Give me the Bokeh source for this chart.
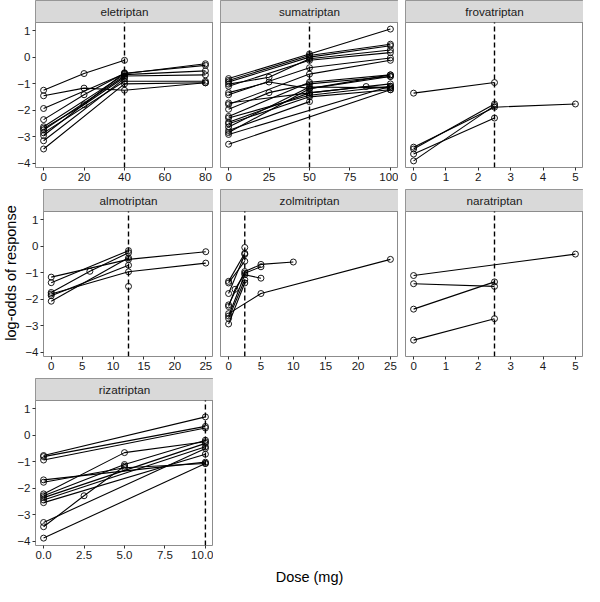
from bokeh.plotting import figure
from bokeh.models import Range1d, FixedTicker, NumeralTickFormatter, BasicTickFormatter
from bokeh.layouts import column, row
from bokeh.embed import file_html
from bokeh.resources import INLINE
from bokeh.core.properties import value

# ---------------- data ----------------
drugs = ["eletriptan", "sumatriptan", "frovatriptan",
         "almotriptan", "zolmitriptan", "naratriptan", "rizatriptan"]
ref_dose = [40, 50, 2.5, 12.5, 2.5, 2.5, 10]

ele_dose = [[0, 20, 40], [0, 20, 40, 80], [0, 40, 80], [0, 20, 40, 80], [0, 40, 80],
            [0, 20, 40], [0, 40, 80], [0, 40, 80], [0, 40], [0, 40], [0, 40, 80]]
ele_lo = [[-1.24, -0.61, -0.11], [-1.45, -1.16, -1.24, -0.96], [-1.93, -0.62, -0.24],
          [-2.35, -1.41, -0.60, -0.30], [-2.62, -0.65, -0.51], [-2.68, -1.79, -0.75],
          [-2.74, -0.70, -0.66], [-2.85, -0.90, -0.90], [-2.95, -0.58], [-3.15, -0.80],
          [-3.46, -1.00, -0.96]]

sum_dose = [[0, 50, 100], [0, 50, 100], [0, 50, 100], [0, 25, 50, 100], [0, 50, 100],
            [0, 25, 50, 100], [0, 50, 100], [0, 50, 85, 100], [0, 50, 100], [0, 25, 50, 100],
            [0, 50, 100], [0, 50, 100], [0, 50, 100], [0, 50, 100], [0, 50, 100],
            [0, 50], [0, 50, 100], [0, 100], [0, 100]]
sum_lo = [[-0.80, 0.13, 1.07], [-0.87, 0.07, 0.50], [-0.93, 0.01, 0.44],
          [-1.01, -0.75, -0.05, 0.28], [-1.09, -0.11, 0.18], [-1.33, -0.93, -1.18, -0.66],
          [-1.41, -0.39, -0.02], [-1.72, -1.34, -1.10, -1.15], [-1.78, -0.63, -0.11],
          [-1.96, -1.33, -1.00, -0.72], [-2.23, -0.94, -0.66], [-2.29, -1.43, -1.09],
          [-2.45, -1.34, -1.00], [-2.51, -1.49, -1.22], [-2.63, -1.12, -1.15],
          [-2.76, -1.67], [-2.84, -1.18, -0.72], [-2.91, -1.09], [-3.28, -1.22]]

fro_dose = [[0, 2.5], [0, 2.5, 5], [0, 2.5], [0, 2.5], [0, 2.5]]
fro_lo = [[-1.35, -0.95], [-3.39, -1.88, -1.76], [-3.46, -1.76], [-3.65, -2.29], [-3.91, -1.82]]

alm_dose = [[0, 12.5, 25], [0, 12.5], [0, 6.25, 12.5], [0, 12.5, 25], [0, 12.5], [0, 12.5], [12.5]]
alm_lo = [[-1.16, -0.49, -0.20], [-1.37, -0.16], [-1.74, -0.94, -0.24], [-1.80, -0.96, -0.63],
          [-1.86, -0.71], [-2.07, -0.43], [-1.51]]

zol_dose = [[0, 2.5], [0, 2.5], [0, 2.5], [0, 2.5, 5, 10], [0, 1, 2.5, 5], [0, 5, 25],
            [0, 2.5, 5], [0, 2.5], [0, 2.5], [2.5]]
zol_lo = [[-1.32, -0.26], [-1.38, -0.56], [-1.78, -0.30], [-2.21, -0.95, -0.68, -0.59],
          [-2.27, -1.62, -1.01, -0.77], [-2.54, -1.78, -0.49], [-2.63, -1.07, -1.20],
          [-2.72, -1.26], [-2.93, -1.38], [-0.04]]

nar_dose = [[0, 5], [0, 2.5], [0, 2.5], [0, 2.5]]
nar_lo = [[-1.10, -0.29], [-1.41, -1.51], [-2.37, -1.34], [-3.54, -2.73]]

riz_dose = [[0, 10], [0, 10], [0, 10], [0, 10], [0, 5, 10], [0, 5, 10], [0, 5, 10],
            [0, 10], [0, 10], [0, 10], [0, 10], [0, 2.5, 5], [0, 10]]
riz_lo = [[-0.76, 0.70], [-0.80, 0.34], [-0.93, 0.28], [-1.68, -1.01], [-1.77, -1.22, -1.06],
          [-2.21, -0.65, -0.24], [-2.28, -1.10, -0.18], [-2.35, -0.30], [-2.44, -0.43],
          [-2.54, -0.71], [-3.29, -0.49], [-3.45, -2.28, -1.16], [-3.88, -1.06]]

x_ticks = [[0, 20, 40, 60, 80], [0, 25, 50, 75, 100], [0, 1, 2, 3, 4, 5],
           [0, 5, 10, 15, 20, 25], [0, 5, 10, 15, 20, 25], [0, 1, 2, 3, 4, 5],
           [0, 2.5, 5, 7.5, 10]]
x_fmt = ["0", "0", "0", "0", "0", "0", "0.0"]
y_ticks = [-4, -3, -2, -1, 0, 1]

all_dose = [ele_dose, sum_dose, fro_dose, alm_dose, zol_dose, nar_dose, riz_dose]
all_lo = [ele_lo, sum_lo, fro_lo, alm_lo, zol_lo, nar_lo, riz_lo]

# ---------------- layout constants ----------------
FONT = "Liberation Sans"
PANEL_W = 178
PANEL_H = 145
STRIP_H = 22
LEFT_W = 35
GAP = 7
BOTTOM = 22
BORDER = "#8c8c8c"
STRIP_FILL = "#d9d9d9"
TOTAL_W = LEFT_W + 3 * PANEL_W + 2 * GAP

flat_y = [v for d in all_lo for s in d for v in s]
ymin, ymax = min(flat_y), max(flat_y)
ypad = 0.05 * (ymax - ymin)
Y0, Y1 = ymin - ypad, ymax + ypad


def panel(i, col, ylabel=None):
    doses, lo = all_dose[i], all_lo[i]
    xs_flat = [v for s in doses for v in s]
    ys_flat = [v for s in lo for v in s]
    xmin, xmax = min(xs_flat), max(xs_flat)
    xpad = 0.05 * (xmax - xmin)
    x0, x1 = xmin - xpad, xmax + xpad
    strip_units = (Y1 - Y0) * STRIP_H / PANEL_H
    ytop = Y1 + strip_units
    left = LEFT_W if col == 0 else GAP
    p = figure(width=left + PANEL_W, height=STRIP_H + PANEL_H + BOTTOM,
               x_range=Range1d(x0, x1), y_range=Range1d(Y0, ytop),
               toolbar_location=None, output_backend="svg",
               y_axis_location="left" if col == 0 else None,
               min_border_left=left, min_border_right=0,
               min_border_top=0, min_border_bottom=BOTTOM)
    p.xgrid.visible = False
    p.ygrid.visible = False
    p.outline_line_color = BORDER
    p.outline_line_width = 1
    p.background_fill_color = "white"
    p.border_fill_color = "white"

    axes = list(p.xaxis) + (list(p.yaxis) if col == 0 else [])
    for ax in axes:
        ax.axis_line_color = None
        ax.major_tick_line_color = "#333333"
        ax.major_tick_out = 3
        ax.major_tick_in = 0
        ax.minor_tick_out = 0
        ax.minor_tick_in = 0
        ax.major_label_standoff = 2
        ax.major_label_text_font = FONT
        ax.major_label_text_font_size = "11.5px"
        ax.major_label_text_color = "#1a1a1a"
    p.xaxis.ticker = FixedTicker(ticks=x_ticks[i])
    if x_fmt[i] == "0.0":
        p.xaxis.formatter = NumeralTickFormatter(format="0.0")
    if col == 0:
        p.yaxis.ticker = FixedTicker(ticks=y_ticks)
        if ylabel:
            p.yaxis.axis_label = ylabel
            p.yaxis.axis_label_text_font = FONT
            p.yaxis.axis_label_text_font_size = "14.5px"
            p.yaxis.axis_label_text_font_style = "normal"
            p.yaxis.axis_label_text_color = "black"
            p.yaxis.axis_label_standoff = 3

    # strip
    p.quad(left=[x0], right=[x1], bottom=[Y1], top=[ytop],
           fill_color=STRIP_FILL, line_color=BORDER, line_width=1)
    p.text(x=[(x0 + x1) / 2], y=[(Y1 + ytop) / 2], text=[drugs[i]],
           text_align="center", text_baseline="middle",
           text_font=value(FONT), text_font_size="11.7px", text_color="#1a1a1a")

    # reference dose
    p.segment(x0=[ref_dose[i]], y0=[Y0], x1=[ref_dose[i]], y1=[Y1],
              line_color="black", line_width=1.4, line_dash="5 3")

    p.multi_line(xs=doses, ys=lo, line_color="black", line_width=1.1)
    p.scatter(xs_flat, ys_flat, marker="circle", size=6, fill_color=None,
              line_color="black", line_width=0.9)
    return p


figs = []
for i in range(7):
    col = i % 3
    figs.append(panel(i, col, ylabel="log-odds of response" if i == 3 else None))

lab = figure(width=TOTAL_W, height=19, x_range=Range1d(0, TOTAL_W), y_range=Range1d(0, 1),
             toolbar_location=None, output_backend="svg",
             x_axis_location=None, y_axis_location=None, min_border=0)
lab.outline_line_color = None
lab.xgrid.visible = False
lab.ygrid.visible = False
lab.text(x=[LEFT_W + (TOTAL_W - LEFT_W) / 2], y=[0.5], text=["Dose (mg)"],
         text_align="center", text_baseline="middle",
         text_font=value(FONT), text_font_size="14.5px", text_color="black")

layout = column(row(*figs[0:3]), row(*figs[3:6]), row(figs[6]), lab)
open("out.html", "w").write(file_html(layout, INLINE))
